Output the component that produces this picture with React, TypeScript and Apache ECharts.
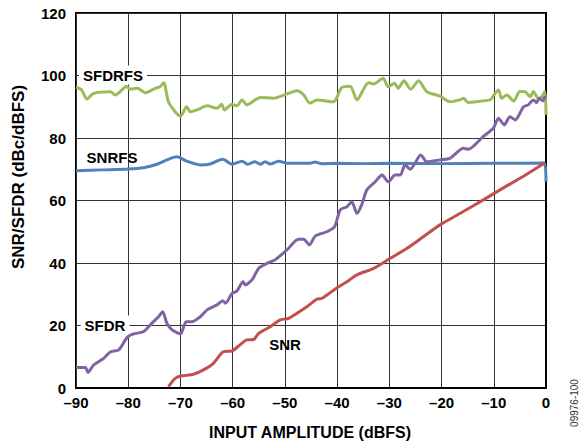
import React, { useEffect, useRef } from "react";
import * as echarts from "echarts";

const xTicks = [-90, -80, -70, -60, -50, -40, -30, -20, -10, 0];
const yTicks = [0, 20, 40, 60, 80, 100, 120];

const sfdrfsData: number[][] = [
  [-90, 96.2], [-89, 95.5], [-87.9, 92.5], [-86.6, 94.3], [-83.4, 94.8], [-82.5, 93.8], [-81.2, 95.4],
  [-80.4, 96.6], [-79.6, 95.6], [-78.3, 95.9], [-76.7, 94.5], [-74.8, 95.9], [-73.9, 96.4], [-73.2, 97.7],
  [-72.3, 91.6], [-71.0, 88.4], [-70.0, 87.0], [-68.8, 90.0], [-68.1, 88.4], [-66.8, 89.0], [-64.9, 90.3],
  [-63.0, 89.5], [-62.1, 90.8], [-61.6, 89.0], [-60.1, 90.8], [-59.2, 90.3], [-58.2, 92.2], [-57.3, 90.6],
  [-54.7, 93.0], [-52.2, 92.7], [-49.6, 94.1], [-47.7, 95.1], [-46.4, 93.8], [-45.2, 91.1], [-43.9, 92.2],
  [-40.7, 91.6], [-39.1, 96.2], [-37.5, 96.6], [-36.2, 92.2], [-34.0, 97.7], [-33.0, 97.3], [-31.2, 99.1],
  [-30.2, 96.4], [-29.0, 97.5], [-28.3, 95.9], [-27.2, 98.3], [-25.9, 95.6], [-24.4, 98.3], [-22.8, 94.8],
  [-20.3, 93.4], [-18.4, 91.6], [-16.5, 92.2], [-15.8, 92.7], [-14.9, 91.4], [-12.6, 91.8], [-10.7, 92.2],
  [-10.2, 93.2], [-9.1, 95.4], [-8.5, 92.7], [-7.5, 93.8], [-6.2, 91.8], [-5.0, 94.9], [-4.0, 94.8],
  [-3.0, 93.2], [-2.4, 94.9], [-1.5, 92.7], [-0.8, 93.2], [-0.2, 94.9], [0, 87.4],
];

const snrfsData: number[][] = [
  [-90, 69.5], [-85, 69.8], [-80, 70.1], [-77.1, 70.5], [-74.5, 71.6], [-72.6, 73.0], [-70.7, 74.0],
  [-68.8, 72.6], [-66.2, 71.4], [-64.3, 71.7], [-61.9, 73.2], [-60.1, 71.6], [-58.2, 72.6], [-57.1, 71.6],
  [-55.7, 72.4], [-54.7, 71.6], [-53.8, 72.4], [-52.8, 71.7], [-51.2, 72.6], [-49.6, 71.9], [-45.2, 71.9],
  [-44.2, 72.3], [-43, 71.8], [-40, 71.9], [-35, 71.8], [-30, 71.9], [-20, 71.8], [-10, 71.9],
  [-0.3, 72.0], [0, 66.0],
];

const snrData: number[][] = [
  [-72.3, 0.4], [-71.0, 3.1], [-69.7, 3.9], [-67.5, 4.4], [-65.6, 5.8], [-63.7, 7.9], [-61.8, 11.6],
  [-60.1, 11.9], [-58.6, 13.8], [-57.3, 15.4], [-56.0, 15.5], [-55.0, 17.5], [-52.8, 19.6], [-50.9, 21.8],
  [-49.3, 22.3], [-45.8, 26.0], [-43.9, 28.4], [-42.9, 28.7], [-40.0, 32.1], [-38.1, 34.0], [-36.2, 36.2],
  [-33.0, 38.3], [-29.8, 41.5], [-26.6, 44.7], [-23.5, 48.4], [-20.3, 52.2], [-16, 56.3], [-12.0, 60.2],
  [-8, 64.2], [-4, 68.1], [-0.2, 72.1],
];

const sfdrData: number[][] = [
  [-90, 6.6], [-88.2, 6.6], [-87.7, 5.0], [-86.6, 7.4], [-84.7, 9.5], [-83.4, 11.6], [-81.8, 12.2],
  [-80.2, 16.2], [-79.0, 17.3], [-77.1, 18.0], [-75.5, 20.7], [-74.2, 22.8], [-73.4, 24.4], [-72.6, 20.7],
  [-71.6, 18.6], [-70.0, 17.3], [-68.9, 21.2], [-67.8, 21.2], [-66.2, 22.8], [-64.9, 25.0], [-63.0, 26.6],
  [-61.9, 27.9], [-61.4, 27.1], [-60.1, 30.3], [-59.2, 31.0], [-58.0, 34.0], [-57.6, 33.0], [-56.3, 34.6],
  [-55.0, 38.3], [-53.4, 39.9], [-51.9, 41.0], [-49.6, 44.2], [-47.4, 47.6], [-46.4, 47.6], [-45.3, 45.8],
  [-44.2, 48.6], [-42.0, 50.0], [-40.5, 51.6], [-39.4, 57.0], [-38.1, 58.0], [-37.2, 59.6], [-36.2, 55.9],
  [-35.3, 58.6], [-34.3, 63.4], [-32.7, 66.0], [-31.4, 68.2], [-30.2, 66.0], [-28.9, 68.2], [-27.9, 68.2],
  [-27.0, 71.4], [-26.0, 70.0], [-25.1, 71.9], [-24.0, 74.6], [-22.8, 72.4], [-20.3, 73.0], [-18.4, 73.5],
  [-15.8, 76.7], [-14.9, 76.4], [-12.0, 80.5], [-10.1, 83.1], [-9.1, 86.3], [-8.0, 84.2], [-6.9, 86.8],
  [-5.9, 85.8], [-4.3, 90.0], [-3.4, 90.6], [-2.4, 92.2], [-1.8, 91.3], [-1.3, 92.7], [-0.6, 91.9],
  [-0.2, 93.4],
];

const FONT = "Liberation Sans, Arial, sans-serif";

export default function App() {
  const ref = useRef<HTMLDivElement>(null);
  useEffect(() => {
    if (!ref.current) return;
    const chart = echarts.init(ref.current, undefined, { renderer: "svg" });
    const lineSeries = (name: string, data: number[][], color: string) => ({
      name,
      type: "line",
      data,
      showSymbol: false,
      smooth: 0.25,
      lineStyle: { color, width: 3 },
      itemStyle: { color },
      z: 3,
    });
    const textStyle = (text: string, size = 15, extra: any = {}) => ({
      text,
      fill: "#000",
      font: `bold ${size}px ${FONT}`,
      align: "center",
      verticalAlign: "middle",
      ...extra,
    });
    chart.setOption({
      animation: false,
      grid: {
        left: 76,
        right: 35,
        top: 13,
        bottom: 54,
        show: true,
        borderColor: "#000",
        borderWidth: 2,
        backgroundColor: "transparent",
      },
      xAxis: {
        type: "value",
        min: xTicks[0],
        max: xTicks[xTicks.length - 1],
        interval: 10,
        axisLine: { show: true, lineStyle: { color: "#000", width: 2 } },
        axisTick: { show: false },
        axisLabel: {
          color: "#000",
          fontFamily: FONT,
          fontWeight: "bold",
          fontSize: 15,
          margin: 7,
          formatter: (v: number) => (v < 0 ? "\u2013" + Math.abs(v) : String(v)),
        },
        splitLine: { show: true, lineStyle: { color: "#333", width: 1 } },
      },
      yAxis: {
        type: "value",
        min: yTicks[0],
        max: yTicks[yTicks.length - 1],
        interval: 20,
        axisLine: { show: true, lineStyle: { color: "#000", width: 2 } },
        axisTick: { show: false },
        axisLabel: {
          color: "#000",
          fontFamily: FONT,
          fontWeight: "bold",
          fontSize: 15,
          margin: 10,
        },
        splitLine: { show: true, lineStyle: { color: "#333", width: 1 } },
      },
      series: [
        lineSeries("SFDRFS", sfdrfsData, "#9BBB59"),
        lineSeries("SNRFS", snrfsData, "#4F81BD"),
        lineSeries("SFDR", sfdrData, "#8064A2"),
        lineSeries("SNR", snrData, "#C0504D"),
      ],
      graphic: [
        {
          type: "text",
          x: 113,
          y: 75,
          z: 10,
          style: textStyle("SFDRFS", 15, { backgroundColor: "#fff", padding: [2, 4, 2, 4] }),
        },
        { type: "text", x: 112, y: 157, z: 10, style: textStyle("SNRFS") },
        {
          type: "text",
          x: 105,
          y: 325,
          z: 10,
          style: textStyle("SFDR", 15, { backgroundColor: "#fff", padding: [2, 4, 2, 4] }),
        },
        { type: "text", x: 285, y: 344, z: 10, style: textStyle("SNR") },
        { type: "text", x: 310, y: 432, z: 10, style: textStyle("INPUT AMPLITUDE (dBFS)", 16) },
        {
          type: "text",
          x: 18,
          y: 177,
          rotation: Math.PI / 2,
          z: 10,
          style: textStyle("SNR/SFDR (dBc/dBFS)", 17),
        },
        {
          type: "text",
          x: 574,
          y: 403,
          rotation: Math.PI / 2,
          z: 10,
          style: {
            text: "09976-100",
            fill: "#333",
            font: `10px ${FONT}`,
            align: "center",
            verticalAlign: "middle",
          },
        },
      ],
    });
    return () => chart.dispose();
  }, []);
  return <div ref={ref} style={{ width: 581, height: 442, position: "absolute", left: 0, top: 0 }} />;
}
